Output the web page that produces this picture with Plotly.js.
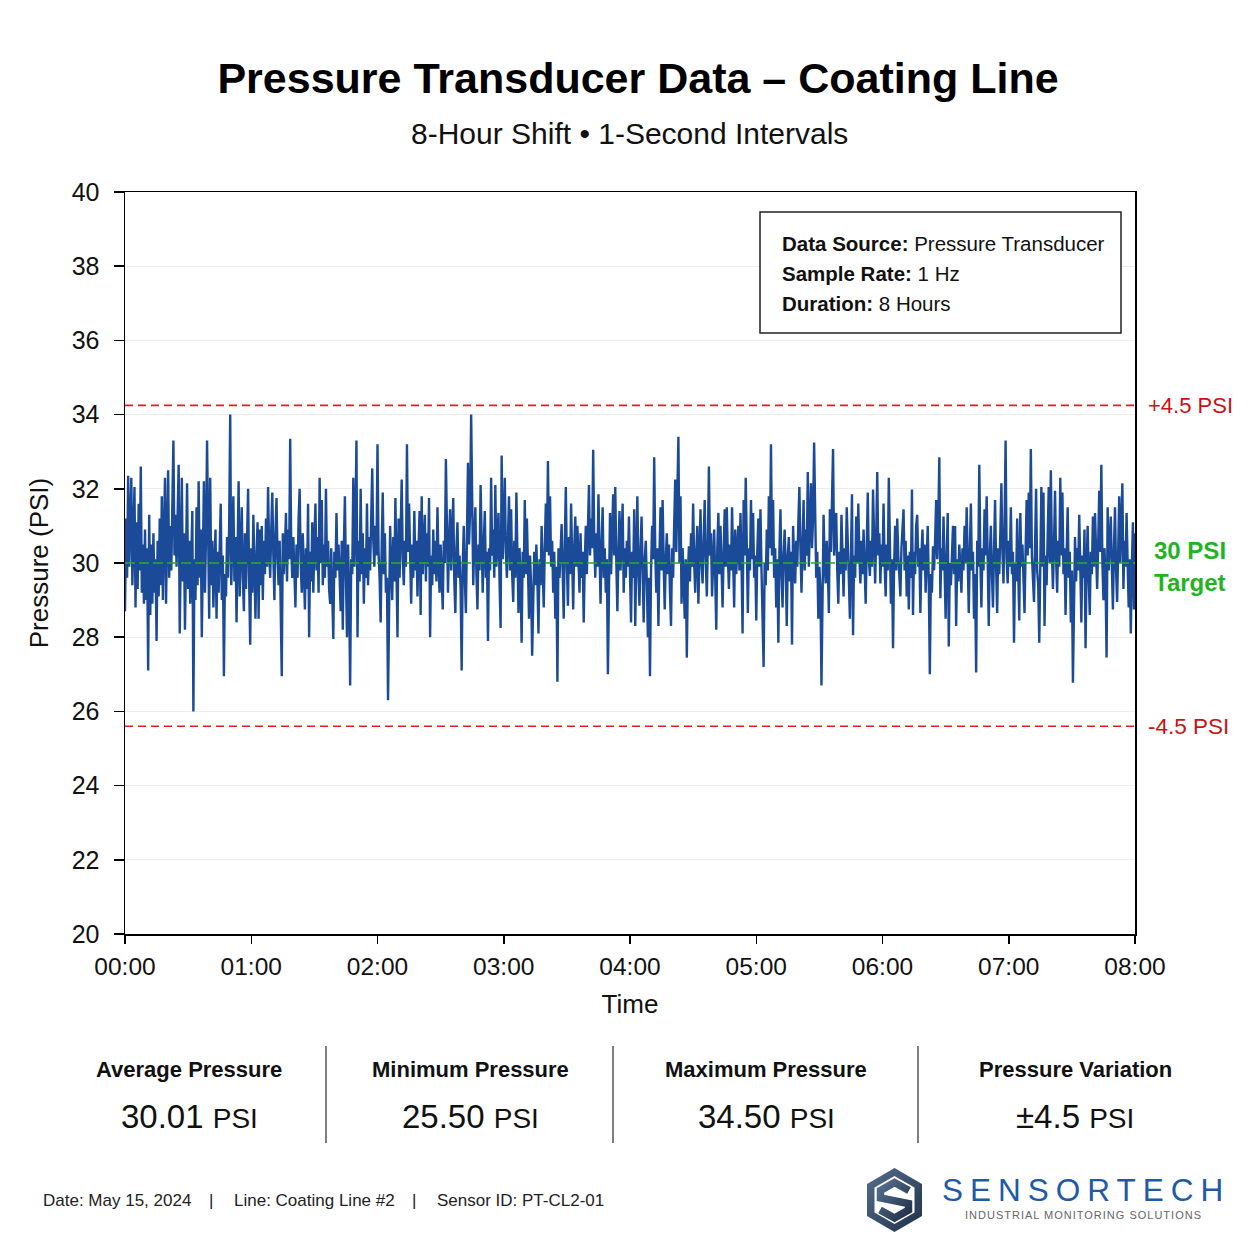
<!DOCTYPE html>
<html>
<head>
<meta charset="utf-8">
<script src="https://cdn.plot.ly/plotly-3.0.1.min.js"></script>
<style>
html,body{margin:0;padding:0;background:#fff;}
#chart{width:1254px;height:1234px;}
</style>
</head>
<body>
<div id="chart"></div>
<script>
// Pressure readings (PSI), one value per 30-second step over the 8-hour shift
const pressure = [
28.7,31.2,29.6,32.35,29.9,31.0,32.3,29.4,30.6,32.05,28.8,31.1,29.3,31.6,29.8,32.6,29.2,30.5,28.9,30.9,
29.0,30.4,27.1,31.3,28.6,30.5,28.9,30.8,29.2,30.1,27.9,30.6,29.1,31.2,29.4,31.8,29.0,30.8,32.3,28.9,
30.7,32.5,29.6,31.0,29.8,31.4,33.3,30.2,31.3,29.9,31.0,32.65,28.1,30.4,32.3,29.5,30.8,28.2,30.3,32.15,
29.3,30.6,28.9,30.2,31.4,26.0,30.1,29.0,31.5,29.4,32.2,29.6,30.9,28.0,30.5,32.2,29.2,30.7,33.3,29.8,
28.5,32.3,29.4,30.6,28.8,29.9,30.9,28.5,30.3,29.2,30.1,31.6,29.0,30.2,26.95,29.7,29.1,30.7,29.6,31.0,
34.0,29.4,30.5,31.8,29.5,30.7,28.4,30.3,32.2,29.1,30.4,31.5,29.6,28.7,30.8,29.3,30.6,32.0,29.5,27.8,
30.4,29.2,31.3,29.7,28.5,30.2,31.1,28.5,30.9,29.4,31.0,29.0,30.6,29.7,31.2,29.9,32.05,30.3,29.6,30.9,
31.9,30.2,29.0,30.8,31.75,30.1,29.4,30.6,29.1,26.95,30.8,29.7,30.4,31.35,29.5,30.9,30.1,33.35,30.4,29.6,
30.7,29.9,28.8,30.5,29.6,31.2,32.0,30.0,29.2,30.8,29.9,28.75,30.4,29.3,31.6,28.0,30.3,29.5,31.1,29.2,
30.6,31.6,29.8,30.7,29.2,32.3,30.0,31.7,29.4,30.5,29.6,32.0,29.9,30.6,29.3,28.9,30.4,29.4,27.95,30.3,
29.6,31.35,29.8,30.5,29.3,28.7,30.6,28.2,30.4,31.8,29.6,28.0,30.5,29.2,26.7,30.1,29.7,32.3,29.9,31.1,
33.3,28.0,30.6,29.5,32.0,29.7,30.8,28.9,30.4,29.6,31.6,29.4,30.7,29.8,31.2,32.55,30.6,29.9,31.0,30.2,
33.2,30.3,29.6,28.4,30.5,31.9,29.7,30.8,29.2,29.6,26.3,29.4,31.0,29.9,29.0,30.7,29.5,31.75,29.6,28.0,
31.2,29.6,30.9,32.25,30.1,29.4,30.6,29.9,33.2,30.3,31.6,29.7,28.9,30.5,29.6,31.4,29.8,30.6,29.1,30.4,
31.4,28.6,31.8,29.7,30.5,31.3,29.5,30.8,29.9,31.75,28.0,30.2,29.4,30.9,29.7,30.6,29.5,31.5,30.0,29.2,
30.5,29.6,28.75,30.6,30.0,32.8,30.4,29.2,30.6,31.45,29.8,30.7,31.75,29.5,28.65,30.4,31.1,29.6,30.2,29.3,
27.1,29.9,31.0,29.6,28.65,30.7,32.7,30.5,31.4,34.0,30.6,29.4,30.6,31.5,29.7,28.75,30.5,29.8,32.1,30.0,
29.2,30.5,31.4,29.6,30.3,27.9,30.4,29.8,32.3,30.2,30.9,29.6,32.1,29.9,30.6,31.35,29.5,28.25,32.9,30.1,
31.0,32.3,30.3,29.6,30.7,31.8,29.8,31.45,29.7,28.95,30.6,29.6,31.9,29.8,28.65,30.4,29.5,27.85,30.3,29.6,
31.7,29.7,31.2,29.9,28.5,30.2,29.4,27.5,29.6,30.3,29.4,30.5,29.5,28.1,30.1,29.4,31.0,29.7,28.8,30.4,
31.6,30.3,32.75,30.2,31.8,29.9,30.6,29.2,30.3,28.5,29.9,26.8,30.4,29.6,30.2,31.05,29.8,28.5,30.5,32.05,
30.0,28.85,30.7,29.7,31.6,29.8,28.75,30.4,31.25,29.9,31.0,30.1,29.2,30.8,29.6,30.3,28.4,30.0,31.0,29.7,
30.8,32.1,30.2,31.2,30.4,33.05,30.6,29.6,30.8,29.9,31.85,30.1,28.9,30.5,31.5,29.6,30.4,29.2,30.1,27.0,
29.9,31.35,29.7,30.8,31.85,30.2,32.05,30.0,28.7,30.3,31.4,29.8,30.6,31.6,29.2,30.4,29.6,30.6,29.9,31.25,
29.7,28.4,30.3,29.6,31.45,28.3,30.2,31.8,29.7,28.85,30.4,31.25,29.8,28.4,30.1,30.6,29.5,28.0,29.6,26.95,
29.8,31.0,30.1,32.85,30.3,29.2,30.4,28.3,30.2,31.5,29.8,31.7,30.0,28.75,30.1,30.8,29.7,30.5,29.2,28.3,
30.4,29.6,31.05,32.25,30.3,31.5,33.4,30.0,31.8,28.9,30.4,29.6,28.5,30.1,27.45,29.7,30.45,29.5,30.8,29.9,
31.6,30.0,29.2,30.3,31.0,28.9,30.2,31.45,30.0,29.45,30.6,31.7,30.1,29.1,30.5,32.6,30.2,30.8,29.1,30.2,
30.9,29.6,28.2,30.4,31.35,29.7,31.0,29.9,28.8,30.3,31.45,29.9,31.5,30.2,29.3,30.5,29.8,31.5,29.9,28.8,
30.9,29.7,30.4,31.0,29.8,31.35,30.0,28.1,31.7,30.2,32.3,29.9,28.65,30.4,29.8,31.7,30.1,31.35,29.6,30.2,
28.45,30.3,31.2,29.9,31.45,29.8,28.2,27.2,30.0,29.4,30.9,29.8,31.8,30.4,33.2,30.2,31.7,29.6,30.4,28.8,
30.1,27.85,30.3,31.45,29.7,28.8,30.2,30.9,29.9,28.3,30.2,30.7,29.5,30.3,27.8,31.0,30.1,29.45,30.6,29.9,
31.1,32.05,30.4,29.2,30.5,31.7,29.8,30.9,30.2,32.45,29.9,31.0,32.15,30.4,31.2,33.25,30.6,29.6,30.3,28.5,
29.9,29.3,26.7,29.5,31.3,30.0,29.45,30.6,29.9,28.65,31.45,30.3,31.6,33.07,30.2,30.9,31.35,29.8,28.9,30.3,
29.7,31.3,30.0,29.1,30.4,29.8,31.5,30.1,29.6,28.5,30.5,31.85,28.05,30.2,29.6,31.25,30.0,31.6,30.2,29.45,
30.6,29.7,30.9,30.1,28.9,30.4,31.9,30.1,29.65,30.6,29.9,31.98,30.3,29.45,30.7,32.45,30.2,30.8,29.45,30.5,
29.9,31.6,30.0,29.1,30.5,29.8,32.3,30.2,28.9,30.1,27.7,29.9,31.0,29.8,31.2,30.2,29.6,29.1,30.4,31.0,
31.45,29.8,30.6,29.1,30.2,28.75,30.3,29.6,31.98,28.6,30.3,29.7,31.0,31.3,29.9,30.4,28.65,30.2,30.9,29.8,
30.5,29.2,30.3,31.0,29.4,27.0,29.7,29.2,30.45,29.8,30.6,31.7,30.1,31.0,32.85,29.05,30.4,29.8,31.25,29.6,
28.5,30.2,31.35,27.75,30.0,29.4,30.5,31.0,29.7,31.0,28.3,30.1,29.5,30.5,29.9,29.2,30.4,29.8,31.0,30.0,
31.5,29.9,28.65,30.3,31.6,29.8,30.3,28.5,29.7,27.05,30.6,29.9,32.65,30.1,28.8,30.4,29.8,31.45,30.2,31.8,
29.9,28.3,30.2,31.0,29.7,28.8,30.3,31.7,29.9,28.65,30.4,29.7,30.8,32.15,30.3,29.45,31.0,33.3,30.1,29.45,
30.6,29.9,31.5,29.7,30.3,27.85,30.0,29.5,31.2,29.8,28.45,31.35,29.9,30.5,29.6,28.65,30.3,31.7,30.2,31.9,
30.4,33.07,30.2,29.7,28.95,30.5,32.0,29.8,29.4,27.85,30.4,32.05,29.9,31.9,28.3,30.2,29.4,30.6,32.05,30.0,
32.5,30.3,29.3,30.5,31.95,30.1,29.2,30.6,29.9,32.3,30.2,31.9,29.7,30.4,28.6,30.2,31.5,29.6,30.3,28.4,
29.8,26.77,29.6,30.7,29.5,30.4,29.8,31.3,29.9,28.4,30.2,29.6,30.9,27.7,29.9,31.0,29.6,28.6,30.3,29.7,
31.25,29.9,31.35,30.1,29.3,30.5,31.95,30.3,32.65,30.0,29.0,30.4,29.5,27.45,31.5,29.8,30.6,31.25,29.9,28.75,
30.4,31.5,29.8,28.95,30.3,31.8,30.0,30.9,32.15,29.3,30.6,29.9,31.35,30.0,28.8,30.1,28.1,29.9,31.1,28.75,
30.8
];
const stepMinutes = 0.5;          // 30-second steps
const timeMinutes = pressure.map((_, i) => i * stepMinutes);

const hourTickVals = [0, 60, 120, 180, 240, 300, 360, 420, 480];
const hourTickText = ["00:00","01:00","02:00","03:00","04:00","05:00","06:00","07:00","08:00"];
const pressureTicks = [20,22,24,26,28,30,32,34,36,38,40];

const targetPSI = 30;
const upperLimit = 34.25;
const lowerLimit = 25.6;

const statLabels = ["Average Pressure","Minimum Pressure","Maximum Pressure","Pressure Variation"];
const statValues = ["30.01","25.50","34.50","±4.5"];

// layout helpers (pixel -> paper)
const L = 125, R = 1135, T = 192, B = 934;
const px = x => (x - L) / (R - L);
const py = y => (B - y) / (B - T);

const FONT = "Liberation Sans, Arial, Helvetica, sans-serif";

const trace = {
  x: timeMinutes,
  y: pressure,
  type: "scatter",
  mode: "lines",
  line: {color: "#1a4a98", width: 2.4},
  hoverinfo: "skip"
};

const shapes = [
  {type:"line", xref:"paper", x0:0, x1:1, yref:"y", y0:upperLimit, y1:upperLimit,
   line:{color:"#dd1f1f", width:1.7, dash:"8px,5px"}, layer:"above"},
  {type:"line", xref:"paper", x0:0, x1:1, yref:"y", y0:lowerLimit, y1:lowerLimit,
   line:{color:"#dd1f1f", width:1.7, dash:"8px,5px"}, layer:"above"},
  {type:"line", xref:"paper", x0:0, x1:1, yref:"y", y0:targetPSI, y1:targetPSI,
   line:{color:"#22b322", width:1.5, dash:"10px,4px"}, layer:"above"},
  {type:"rect", xref:"paper", yref:"paper", x0:px(760), x1:px(1121), y0:py(333), y1:py(212),
   line:{color:"#222", width:1.5}, fillcolor:"#ffffff", layer:"above"},
  {type:"line", xref:"paper", yref:"paper", x0:px(326), x1:px(326), y0:py(1046), y1:py(1143), line:{color:"#555", width:1.5}},
  {type:"line", xref:"paper", yref:"paper", x0:px(613), x1:px(613), y0:py(1046), y1:py(1143), line:{color:"#555", width:1.5}},
  {type:"line", xref:"paper", yref:"paper", x0:px(918), x1:px(918), y0:py(1046), y1:py(1143), line:{color:"#555", width:1.5}}
];

const ann = [];
function addText(text, x, y, opts) {
  ann.push(Object.assign({
    text: text, xref:"paper", yref:"paper", x: px(x), y: py(y),
    showarrow:false, xanchor:"center", yanchor:"middle",
    font:{family:FONT, size:20, color:"#111"}
  }, opts || {}));
}

addText("8-Hour Shift • 1-Second Intervals", 629, 133, {font:{family:FONT, size:30, color:"#111"}});

// info box
const boxFont = {family:FONT, size:20.5, color:"#111"};
addText("<b>Data Source:</b> Pressure Transducer", 780, 243, {xanchor:"left", font:boxFont});
addText("<b>Sample Rate:</b> 1 Hz", 780, 273, {xanchor:"left", font:boxFont});
addText("<b>Duration:</b> 8 Hours", 780, 303, {xanchor:"left", font:boxFont});

// limit labels
ann.push({text:"+4.5 PSI", xref:"paper", x:px(1146), xanchor:"left", yref:"y", y:upperLimit, yanchor:"middle",
  showarrow:false, font:{family:FONT, size:22, color:"#cc1111"}});
ann.push({text:"-4.5 PSI", xref:"paper", x:px(1146), xanchor:"left", yref:"y", y:lowerLimit, yanchor:"middle",
  showarrow:false, font:{family:FONT, size:22.5, color:"#cc1111"}});
addText("<b>30 PSI</b>", 1190, 550, {font:{family:FONT, size:24, color:"#1fb51f"}});
addText("<b>Target</b>", 1190, 582, {font:{family:FONT, size:24, color:"#1fb51f"}});

// stats
const statCenters = [189, 470, 766, 1075];
statLabels.forEach((s, i) => {
  addText("<b>" + s + "</b>", statCenters[i], 1069, {font:{family:FONT, size:22, color:"#111"}});
  addText(statValues[i] + ' <span style="font-size:28px">PSI</span>', statCenters[i], 1116, {font:{family:FONT, size:33, color:"#111"}});
});

// footer
const footFont = {family:FONT, size:17, color:"#222"};
addText("Date: May 15, 2024", 41, 1200, {xanchor:"left", font:footFont});
addText("|", 211, 1200, {font:footFont});
addText("Line: Coating Line #2", 232, 1200, {xanchor:"left", font:footFont});
addText("|", 414, 1200, {font:footFont});
addText("Sensor ID: PT-CL2-01", 435, 1200, {xanchor:"left", font:footFont});

// logo text
addText('<span style="letter-spacing:7px">SENSORTECH</span>', 940, 1190, {xanchor:"left", font:{family:FONT, size:31.5, color:"#1f5aa8"}});
addText('<span style="letter-spacing:1px">INDUSTRIAL MONITORING SOLUTIONS</span>', 1083, 1215, {font:{family:FONT, size:11, color:"#666"}});

const logoSvg = "<svg xmlns='http://www.w3.org/2000/svg' viewBox='0 0 55 64'>" +
  "<defs><linearGradient id='g' x1='0' y1='0' x2='1' y2='1'><stop offset='0' stop-color='#566f8d'/><stop offset='1' stop-color='#1f3049'/></linearGradient></defs>" +
  "<polygon points='27.5,0 55,16 55,48 27.5,64 0,48 0,16' fill='url(#g)'/>" +
  "<polygon points='27.5,8 47.5,19.5 47.5,44.5 27.5,56 7.5,44.5 7.5,19.5' fill='#ffffff'/>" +
  "<path d='M42,22.5 L27.5,14.5 L13.5,22.5 L13.5,30 L41.5,35.5 L41.5,42 L27.5,50 L13,42' fill='none' stroke='url(#g)' stroke-width='7.5' stroke-linejoin='miter'/>" +
  "</svg>";

const layout = {
  width: 1254, height: 1234,
  margin: {l: L, r: 1254 - R, t: T, b: 1234 - B, pad: 0},
  paper_bgcolor: "#ffffff", plot_bgcolor: "#ffffff",
  showlegend: false,
  font: {family: FONT, color: "#111"},
  title: {
    text: "<b>Pressure Transducer Data – Coating Line</b>",
    font: {family: FONT, size: 43, color: "#000"},
    xref: "container", x: 638/1254, xanchor: "center",
    yref: "container", y: 1 - 78/1234, yanchor: "middle"
  },
  xaxis: {
    range: [0, 480], tickvals: hourTickVals, ticktext: hourTickText,
    ticks: "outside", ticklen: 8, tickwidth: 1.5, tickcolor: "#000",
    ticklabelstandoff: 2,
    showline: true, linecolor: "#000", linewidth: 1.5, mirror: true,
    showgrid: false, zeroline: false,
    tickfont: {family: FONT, size: 24.5, color: "#111"},
    title: {text: "Time", font: {family: FONT, size: 26, color: "#111"}, standoff: 16}
  },
  yaxis: {
    range: [20, 40], tickvals: pressureTicks,
    ticks: "outside", ticklen: 10, tickwidth: 1.5, tickcolor: "#000",
    ticklabelstandoff: 9,
    showline: true, linecolor: "#000", linewidth: 1.5, mirror: true,
    showgrid: true, gridcolor: "#ececec", gridwidth: 1, zeroline: false,
    tickfont: {family: FONT, size: 25, color: "#111"},
    title: {text: "Pressure (PSI)", font: {family: FONT, size: 26, color: "#111"}, standoff: 15}
  },
  shapes: shapes,
  annotations: ann,
  images: [{
    source: "data:image/svg+xml;charset=utf-8," + encodeURIComponent(logoSvg),
    xref: "paper", yref: "paper",
    x: px(867), y: py(1168), sizex: 55/(R-L), sizey: 64/(B-T),
    xanchor: "left", yanchor: "top", sizing: "stretch", layer: "above"
  }]
};

Plotly.newPlot("chart", [trace], layout, {staticPlot: true, displayModeBar: false});
</script>
</body>
</html>
